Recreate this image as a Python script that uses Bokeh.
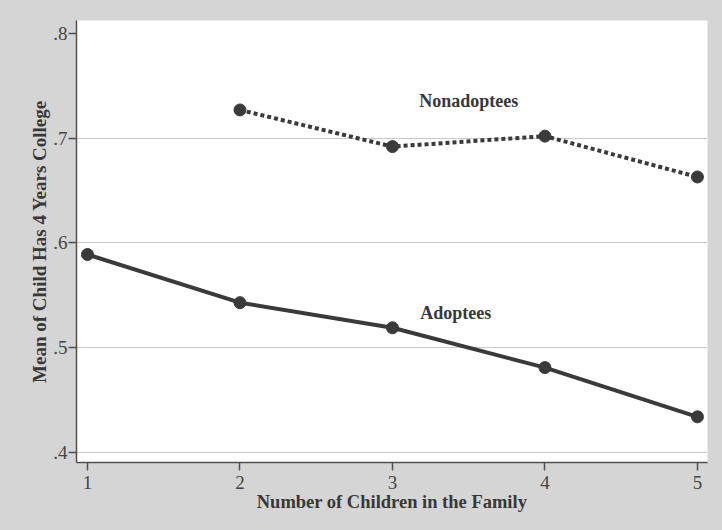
from bokeh.plotting import figure
from bokeh.models import FixedTicker, Range1d, Label
from bokeh.embed import file_html
from bokeh.resources import INLINE

children = [1, 2, 3, 4, 5]
adoptees = [0.589, 0.543, 0.519, 0.481, 0.434]
non_children = [2, 3, 4, 5]
nonadoptees = [0.727, 0.692, 0.702, 0.663]
y_ticks = [0.4, 0.5, 0.6, 0.7, 0.8]
y_tick_labels = [".4", ".5", ".6", ".7", ".8"]
x_ticks = [1, 2, 3, 4, 5]

BG = "#d5d5d5"
INK = "#3a3a3a"
TXT = "#383838"
FONT = "Liberation Serif"

p = figure(width=722, height=530, output_backend="svg", toolbar_location=None,
           x_range=Range1d(0.928, 5.066), y_range=Range1d(0.3904, 0.8124),
           min_border_left=76, min_border_right=15, min_border_top=20, min_border_bottom=68)
p.background_fill_color = "white"
p.border_fill_color = BG
p.outline_line_color = None

p.xgrid.grid_line_color = None
p.ygrid.grid_line_color = "#c8c8c8"
p.ygrid.grid_line_width = 1
p.ygrid.ticker = FixedTicker(ticks=[0.4, 0.5, 0.6, 0.7])

p.yaxis.ticker = FixedTicker(ticks=y_ticks)
p.yaxis.major_label_overrides = {t: l for t, l in zip(y_ticks, y_tick_labels)}
p.xaxis.ticker = FixedTicker(ticks=x_ticks)

for ax in (p.xaxis[0], p.yaxis[0]):
    ax.axis_line_color = "#505050"
    ax.axis_line_width = 1.5
    ax.major_tick_line_color = "#505050"
    ax.major_tick_line_width = 1.5
    ax.major_tick_in = 0
    ax.minor_tick_line_color = None
    ax.major_label_text_font = FONT
    ax.major_label_text_font_size = "19px"
    ax.major_label_text_color = "#454545"
    ax.axis_label_text_font = FONT
    ax.axis_label_text_font_style = "bold"
    ax.axis_label_text_font_size = "18.5px"
    ax.axis_label_text_color = TXT

p.xaxis.major_tick_out = 8
p.xaxis.major_label_standoff = 5
p.xaxis.axis_label = "Number of Children in the Family"
p.xaxis.axis_label_standoff = 0
p.yaxis.major_tick_out = 8
p.yaxis.major_label_standoff = 1
p.yaxis.major_label_orientation = "horizontal"
p.yaxis.axis_label = "Mean of Child Has 4 Years College"
p.yaxis.axis_label_text_font_size = "19px"
p.yaxis.axis_label_standoff = 0

p.line(non_children, nonadoptees, line_color=INK, line_width=4, line_dash="4 3")
p.scatter(non_children, nonadoptees, size=12, fill_color=INK, line_color=INK)
p.line(children, adoptees, line_color=INK, line_width=4)
p.scatter(children, adoptees, size=12, fill_color=INK, line_color=INK)

p.add_layout(Label(x=3.5, y=0.736, text="Nonadoptees", text_font=FONT, text_font_style="bold",
                   text_font_size="18px", text_color=TXT, text_align="center", text_baseline="middle"))
p.add_layout(Label(x=3.415, y=0.5335, text="Adoptees", text_font=FONT, text_font_style="bold",
                   text_font_size="18px", text_color=TXT, text_align="center", text_baseline="middle"))

html = file_html(p, INLINE)
html = html.replace("</head>", "<style>body{background:%s;}</style></head>" % BG, 1)
open("out.html", "w").write(html)
